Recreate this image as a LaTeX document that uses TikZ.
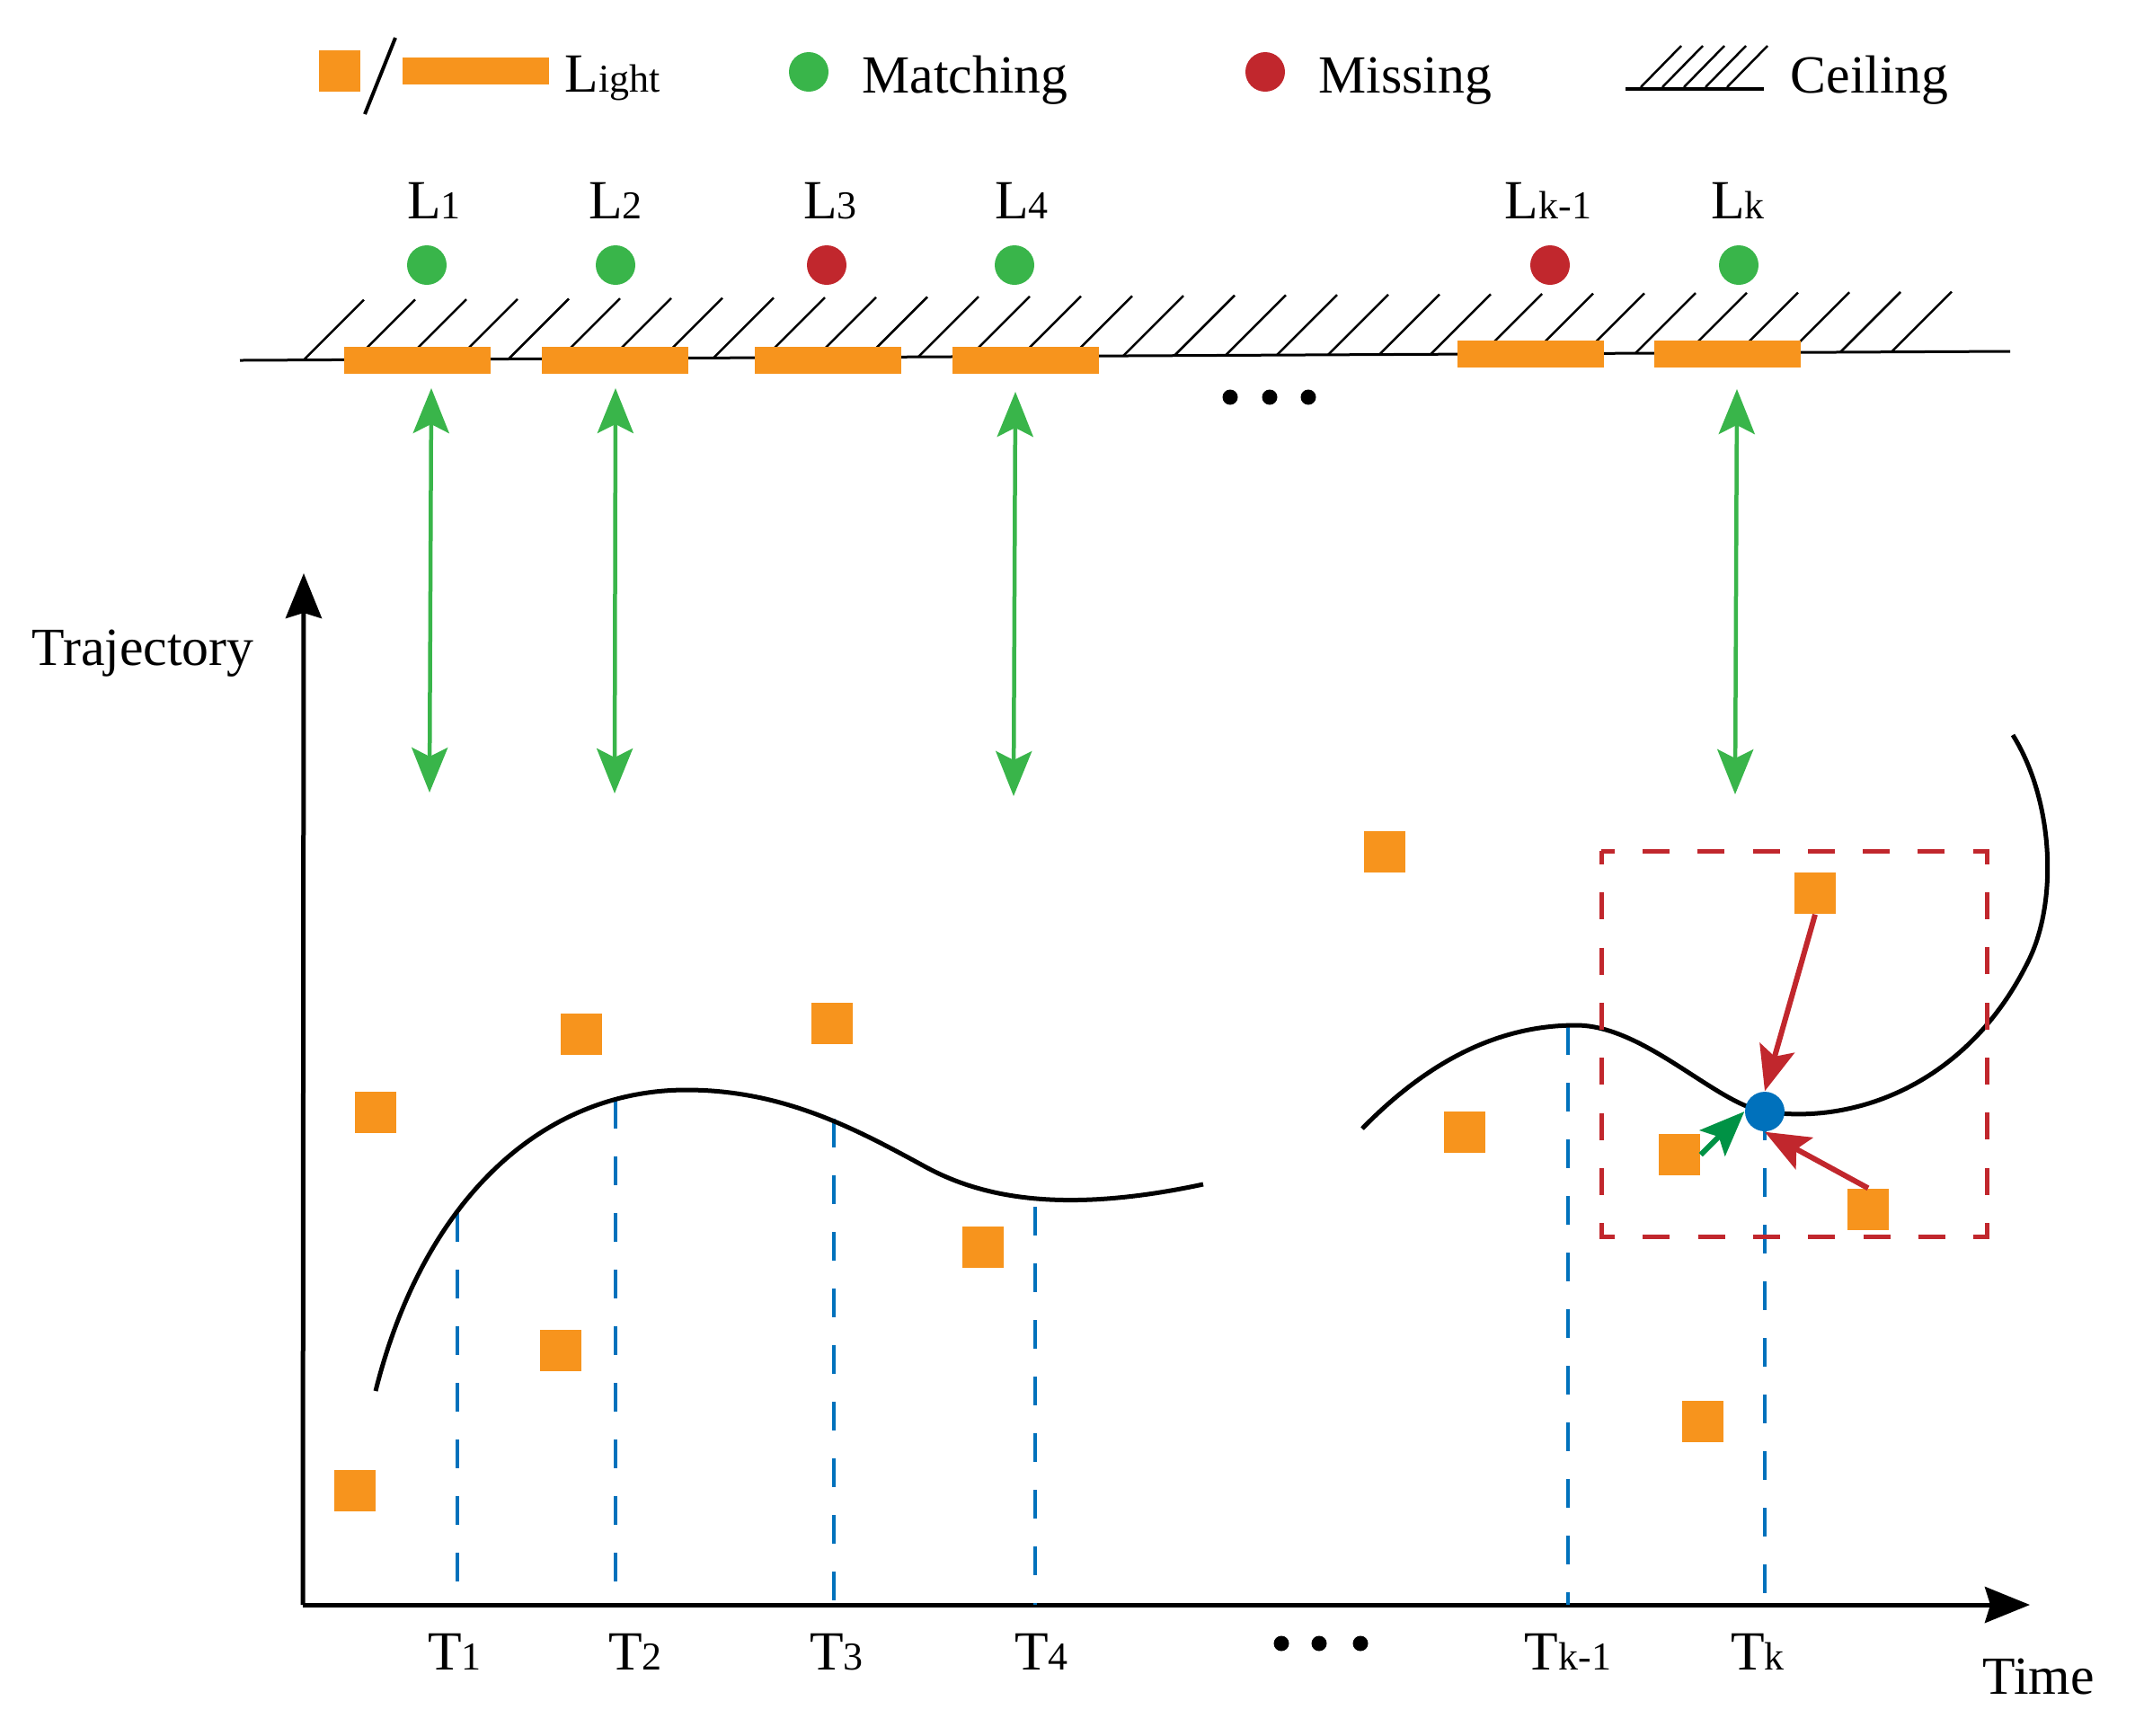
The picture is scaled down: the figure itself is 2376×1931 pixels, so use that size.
\documentclass[tikz,border=0pt]{standalone}
\usepackage{fontspec}
\setmainfont{Liberation Serif}
\usetikzlibrary{arrows.meta,calc}
\definecolor{lightorange}{RGB}{247,148,29}
\definecolor{matchgreen}{RGB}{57,181,74}
\definecolor{darkgreen}{RGB}{0,146,69}
\definecolor{missred}{RGB}{193,39,45}
\definecolor{poseblue}{RGB}{0,113,188}
\newcommand{\sublabel}[2]{{\fontsize{17.5}{20}\selectfont #1}{\fontsize{12.5}{14}\selectfont #2}}
\tikzset{
	lamp/.style={fill=lightorange, draw=none, minimum width=4.6mm, minimum height=4.6mm, inner sep=0pt},
	lampbar/.style={fill=lightorange, draw=none, minimum width=16.3mm, minimum height=3mm, inner sep=0pt},
	lampdot/.style={circle, draw=none, minimum size=4.4mm, inner sep=0pt},
	etcdot/.style={circle, fill=black, minimum size=1.7mm, inner sep=0pt},
	bigtxt/.style={font=\fontsize{17}{20}\selectfont, inner sep=0pt},
	hatch/.style={line width=0.25mm},
	axis/.style={line width=0.5mm, -{Stealth[length=5mm,width=4mm,inset=0.6mm]}},
	traj/.style={line width=0.5mm},
	timeline/.style={poseblue, line width=0.45mm, dash pattern=on 3.2mm off 3.1mm},
	matcharrow/.style={matchgreen, line width=0.45mm, {Stealth[length=5mm,width=4mm,inset=1mm]}-{Stealth[length=5mm,width=4mm,inset=1mm]}},
	pullarrow/.style={line width=0.6mm, -{Stealth[length=5mm,width=4mm,inset=1mm]}}
}

\begin{document}
\begin{tikzpicture}[x=0.1mm, y=-0.1mm]
			%%%%% START %%%%%
			\useasboundingbox (0,0) rectangle (2376,1931);
			
			% legend
			\node[lamp] (legsq) at (377.5,79) {};
			\draw[line width=0.4mm] (440,42) -- (406,127);
			\node[lampbar] (legbar) at (529,79) {};
			\node[anchor=base west, inner sep=0pt] (leglight) at (628,102) {\sublabel{L}{ight}};
			\node[lampdot, fill=matchgreen] (legmatch) at (900,80) {};
			\node[bigtxt, anchor=base west] (legmatchtxt) at (959,103) {Matching};
			\node[lampdot, fill=missred] (legmiss) at (1408,80) {};
			\node[bigtxt, anchor=base west] (legmisstxt) at (1467,103) {Missing};
			\draw[line width=0.35mm] (1809,99) -- (1963,99);
			\foreach \i in {0,...,4}
				\draw[hatch] ({1826+24*\i},97) -- ++(45,-46);
			\node[bigtxt, anchor=base west] (legceil) at (1992,103) {Ceiling};
			
			% ceiling
			\draw[line width=0.3mm] (267,401) -- (2237,391);
			\foreach \i in {0,...,31}{
				\pgfmathsetmacro{\hx}{338+57*\i}
				\pgfmathsetmacro{\hy}{401-(\hx-267)/196.9}
				\draw[hatch] (\hx,\hy) -- ++(67,-67);
			}
			\node[lampbar] (b1) at (464.5,401) {};
			\node[lampbar] (b2) at (684,401) {};
			\node[lampbar] (b3) at (921.5,401) {};
			\node[lampbar] (b4) at (1141.5,401) {};
			\node[lampbar] (bk1) at (1703.5,393.5) {};
			\node[lampbar] (bk) at (1922.5,393.5) {};
			
			\node[lampdot, fill=matchgreen] (d1) at (475,295) {};
			\node[lampdot, fill=matchgreen] (d2) at (685,295) {};
			\node[lampdot, fill=missred] (d3) at (920,295) {};
			\node[lampdot, fill=matchgreen] (d4) at (1129,295) {};
			\node[lampdot, fill=missred] (dk1) at (1725,295) {};
			\node[lampdot, fill=matchgreen] (dk) at (1935,295) {};
			
			\node[anchor=base, inner sep=0pt] (l1) at (483,243) {\sublabel{L}{1}};
			\node[anchor=base, inner sep=0pt] (l2) at (685,243) {\sublabel{L}{2}};
			\node[anchor=base, inner sep=0pt] (l3) at (924,243) {\sublabel{L}{3}};
			\node[anchor=base, inner sep=0pt] (l4) at (1137,243) {\sublabel{L}{4}};
			\node[anchor=base, inner sep=0pt] (lk1) at (1723,243) {\sublabel{L}{k-1}};
			\node[anchor=base, inner sep=0pt] (lk) at (1934,243) {\sublabel{L}{k}};
			
			\node[etcdot] (e1) at (1369,442) {};
			\node[etcdot] (e2) at (1413,442) {};
			\node[etcdot] (e3) at (1456,442) {};
			
			% matching arrows
			\coordinate (u1) at (480,432);
			\coordinate (v1) at (478,882);
			\coordinate (u2) at (685,432);
			\coordinate (v2) at (684,883);
			\coordinate (u4) at (1130,436);
			\coordinate (v4) at (1128,886);
			\coordinate (uk) at (1933,433);
			\coordinate (vk) at (1931,884);
			\draw[matcharrow] (u1) -- (v1);
			\draw[matcharrow] (u2) -- (v2);
			\draw[matcharrow] (u4) -- (v4);
			\draw[matcharrow] (uk) -- (vk);
			
			% axes
			\coordinate (o) at (337,1786);
			\coordinate (ytip) at (338,638);
			\coordinate (xtip) at (2259,1786);
			\draw[axis] (o) -- (ytip);
			\draw[axis] (o) -- (xtip);
			\node[bigtxt, anchor=base west] (ylab) at (35,740) {Trajectory};
			\node[bigtxt, anchor=base west] (xlab) at (2206,1885) {Time};
			
			% time stamps
			\coordinate (t1) at (509,1350);
			\coordinate (t2) at (685,1224);
			\coordinate (t3) at (928,1245);
			\coordinate (t4) at (1152,1343);
			\coordinate (tk1) at (1745,1142);
			\coordinate (tk) at (1964,1237);
			\foreach \t in {t1,t2,t3,t4,tk1,tk}
				\draw[timeline] (\t) -- (\t |- o);
			
			\node[anchor=base, inner sep=0pt] (T1) at (506,1858) {\sublabel{T}{1}};
			\node[anchor=base, inner sep=0pt] (T2) at (707,1858) {\sublabel{T}{2}};
			\node[anchor=base, inner sep=0pt] (T3) at (931,1858) {\sublabel{T}{3}};
			\node[anchor=base, inner sep=0pt] (T4) at (1159,1858) {\sublabel{T}{4}};
			\node[anchor=base, inner sep=0pt] (Tk1) at (1745,1858) {\sublabel{T}{k-1}};
			\node[anchor=base, inner sep=0pt] (Tk) at (1956,1858) {\sublabel{T}{k}};
			
			\node[etcdot] (f1) at (1426,1829) {};
			\node[etcdot] (f2) at (1468,1829) {};
			\node[etcdot] (f3) at (1514,1829) {};
			
			% trajectory
			\draw[traj] (418,1548) .. controls (470,1340) and (600,1213) .. (764,1213)
				.. controls (870,1213) and (950,1255) .. (1027,1297)
				.. controls (1090,1332) and (1180,1352) .. (1339,1318);
			\draw[traj] (1516,1256) .. controls (1600,1170) and (1680,1141) .. (1754,1141)
				.. controls (1830,1141) and (1910,1229) .. (1964,1237)
				.. controls (2060,1252) and (2190,1210) .. (2259,1066)
				.. controls (2290,1000) and (2285,890) .. (2240,818);
			
			% detected lights
			\node[lamp] (s1) at (418,1238) {};
			\node[lamp] (s2) at (395,1659) {};
			\node[lamp] (s3) at (647,1151) {};
			\node[lamp] (s4) at (624,1503) {};
			\node[lamp] (s5) at (926,1139) {};
			\node[lamp] (s6) at (1094,1388) {};
			\node[lamp] (s7) at (1541,948) {};
			\node[lamp] (s8) at (1630,1260) {};
			\node[lamp] (s9) at (1895,1582) {};
			
			% search window
			\draw[missred, line width=0.5mm, dash pattern=on 3mm off 3.13mm, dash phase=1.5mm] (1782,947) rectangle (2211,1376);
			\node[lamp] (q1) at (2020,994) {};
			\node[lamp] (q2) at (1869,1285) {};
			\node[lamp] (q3) at (2079,1346) {};
			\node[lampdot, fill=poseblue] (p) at (1964,1237) {};
			\draw[pullarrow, missred] (q1.south) -- (p.north);
			\draw[pullarrow, darkgreen] (q2.east) -- (p.west);
			\draw[pullarrow, missred] (q3.north) -- (p.south);
			
			%%%%% END %%%%%
\end{tikzpicture}
\end{document}
